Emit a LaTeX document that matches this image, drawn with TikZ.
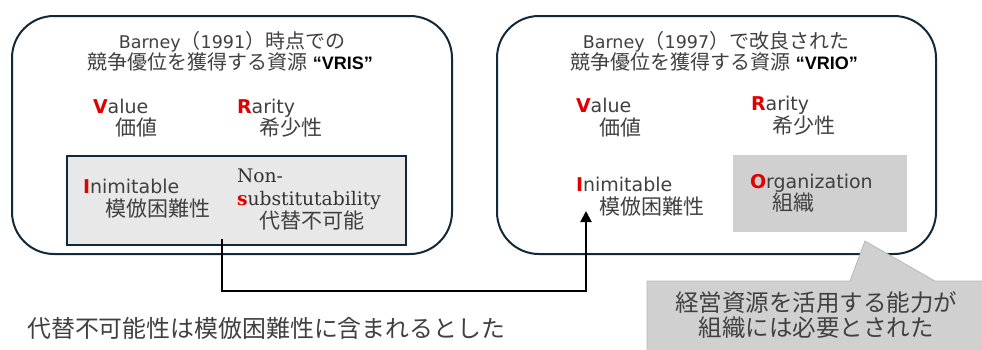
\documentclass[tikz,border=0pt]{standalone}
\usepackage{fontspec}
\setmainfont{DejaVu Sans}
\newfontfamily\jpfont{Noto Sans CJK JP}
\newfontfamily\arialfont{Liberation Sans}
\newfontfamily\seriffont{DejaVu Serif}
\usetikzlibrary{arrows.meta}
\definecolor{navy}{HTML}{11293A}
\definecolor{txt}{HTML}{404040}
\definecolor{redl}{HTML}{E00000}
\definecolor{lightfill}{HTML}{E8E8E8}
\definecolor{grayfill}{HTML}{D0D0D0}
\definecolor{callborder}{HTML}{B8B8B8}
\newcommand{\jpt}[2][21]{{\jpfont\fontsize{#1}{#1}\selectfont #2}}
\newcommand{\rl}[1]{{\color{redl}\bfseries #1}}
\tikzset{
  outerbox/.style={draw=navy, line width=2pt, rounded corners=42pt},
  lbl/.style={inner sep=0pt, outer sep=0pt, text=txt, font=\fontsize{19}{19}\selectfont, anchor=base west},
  ttl/.style={inner sep=0pt, outer sep=0pt, text=txt, font=\fontsize{17.5}{17.5}\selectfont, anchor=base},
  conn/.style={line width=2pt, draw=black},
}
\begin{document}
\begin{tikzpicture}[x=1pt, y=-1pt]
\useasboundingbox (0,0) rectangle (982,349);
% outer boxes
\draw[outerbox] (12,16) rectangle (452,254);
\draw[outerbox] (497,16) rectangle (936,254);
% inner box (left)
\node[draw=navy, line width=2.5pt, fill=lightfill, minimum width=339pt, minimum height=89pt, inner sep=0pt, anchor=north west] (nsbox) at (65.5,154.5) {};
% organization box (right)
\node[fill=grayfill, minimum width=174pt, minimum height=77pt, inner sep=0pt, anchor=north west] (obox) at (733,155) {};
% titles
\node[ttl] (lt1) at (232,48) {Barney\jpt[20]{（}1991\jpt[20]{）時点での}};
\node[ttl] (lt2) at (230,69) {\jpt[20]{競争優位を獲得する資源} {\arialfont\bfseries\fontsize{18}{18}\selectfont\color{black}“VRIS”}};
\node[ttl] (rt1) at (716,48) {Barney\jpt[20]{（}1997\jpt[20]{）で改良された}};
\node[ttl] (rt2) at (714,69) {\jpt[20]{競争優位を獲得する資源} {\arialfont\bfseries\fontsize{18}{18}\selectfont\color{black}“VRIO”}};
% left items
\node[lbl] (lv) at (93,113) {\rl{V}alue};
\node[lbl] (lvj) at (115,135) {\jpt{価値}};
\node[lbl] (lr) at (237,113) {\rl{R}arity};
\node[lbl] (lrj) at (259,135) {\jpt{希少性}};
\node[lbl] (li) at (83,193) {\rl{I}nimitable};
\node[lbl] (lij) at (105,216) {\jpt{模倣困難性}};
\node[lbl, font=\seriffont\fontsize{18.7}{18.7}\selectfont, text=black!80] (ln1) at (237,182) {Non-};
\node[lbl, font=\seriffont\fontsize{18.7}{18.7}\selectfont, text=black!80] (ln2) at (237,205) {\rl{s}ubstitutability};
\node[lbl] (lnj) at (259,228) {\jpt{代替不可能}};
% right items
\node[lbl] (rv) at (576,112) {\rl{V}alue};
\node[lbl] (rvj) at (599,135) {\jpt{価値}};
\node[lbl] (rr) at (751,110) {\rl{R}arity};
\node[lbl] (rrj) at (772,133) {\jpt{希少性}};
\node[lbl] (ri) at (576,191) {\rl{I}nimitable};
\node[lbl] (rij) at (599,214) {\jpt{模倣困難性}};
\node[lbl] (ro) at (750,188) {\rl{O}rganization};
\node[lbl] (roj) at (772,210) {\jpt{組織}};
% connector
\coordinate (cs) at (221.5,239);
\coordinate (ce) at (586,211);
\draw[conn, -{Triangle[length=11pt,width=11pt]}] (cs) |- (586,291) -- (ce);
% callout
\draw[fill=grayfill, draw=callborder, line width=0.8pt] (647,281) -- (850,281) -- (865,241) -- (935,281) -- (986,281) -- (986,353) -- (647,353) -- cycle;
\node[inner sep=0pt, anchor=base, text=txt] (cl1) at (816,311) {\jpt[23.5]{経営資源を活用する能力が}};
\node[inner sep=0pt, anchor=base, text=txt] (cl2) at (816,336) {\jpt[23.5]{組織には必要とされた}};
% bottom note
\node[inner sep=0pt, anchor=base west, text=txt] (note) at (27,337) {\jpt[23.9]{代替不可能性は模倣困難性に含まれるとした}};
\end{tikzpicture}
\end{document}
